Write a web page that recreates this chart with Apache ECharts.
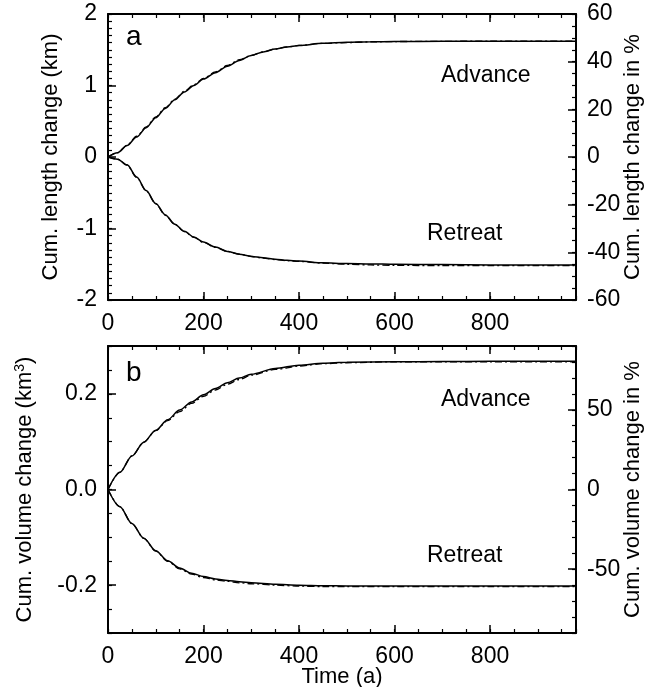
<!DOCTYPE html>
<html>
<head>
<meta charset="utf-8">
<script src="https://cdn.jsdelivr.net/npm/echarts@6/dist/echarts.min.js"></script>
<style>
html,body{margin:0;padding:0;background:#fff;overflow:hidden;}
#chart{width:646px;height:687px;}
</style>
</head>
<body>
<div id="chart"></div>
<script>
// ---- Data ----
var timeA = [0,20,40,60,80,100,120,140,160,180,200,225,250,275,300,325,350,375,400,450,500,550,600,700,800,900,980];
var lengthAdvance     = [0,0.06,0.16,0.28,0.41,0.55,0.68,0.80,0.91,1.00,1.09,1.18,1.27,1.35,1.42,1.47,1.51,1.54,1.56,1.59,1.605,1.612,1.615,1.618,1.62,1.62,1.62];
var lengthAdvanceAlt  = [0,0.06,0.165,0.29,0.42,0.56,0.69,0.81,0.92,1.01,1.10,1.19,1.28,1.36,1.42,1.47,1.51,1.54,1.56,1.59,1.60,1.61,1.615,1.618,1.62,1.62,1.62];
var lengthRetreat     = [0,-0.03,-0.11,-0.28,-0.47,-0.65,-0.81,-0.94,-1.04,-1.12,-1.19,-1.26,-1.32,-1.36,-1.39,-1.41,-1.43,-1.445,-1.455,-1.48,-1.49,-1.495,-1.50,-1.505,-1.51,-1.51,-1.51];
var lengthRetreatAlt  = [0,-0.03,-0.115,-0.285,-0.475,-0.655,-0.815,-0.945,-1.045,-1.125,-1.195,-1.265,-1.32,-1.36,-1.39,-1.415,-1.435,-1.45,-1.46,-1.485,-1.50,-1.51,-1.515,-1.52,-1.52,-1.52,-1.52];

var timeB = [0,25,50,75,100,125,150,175,200,225,250,275,300,350,400,450,500,600,700,800,900,980];
var volumeAdvance     = [0,0.036,0.070,0.099,0.124,0.146,0.166,0.183,0.198,0.211,0.223,0.233,0.241,0.253,0.260,0.264,0.266,0.267,0.2675,0.268,0.268,0.268];
var volumeAdvanceAlt  = [0,0.036,0.070,0.099,0.123,0.144,0.163,0.180,0.195,0.208,0.220,0.230,0.239,0.251,0.258,0.263,0.265,0.267,0.267,0.267,0.267,0.267];
var volumeRetreat     = [0,-0.036,-0.071,-0.102,-0.128,-0.149,-0.164,-0.175,-0.182,-0.187,-0.190,-0.193,-0.195,-0.198,-0.200,-0.201,-0.2015,-0.202,-0.202,-0.202,-0.202,-0.202];
var volumeRetreatAlt  = [0,-0.036,-0.071,-0.102,-0.129,-0.150,-0.166,-0.177,-0.184,-0.189,-0.192,-0.195,-0.197,-0.200,-0.202,-0.203,-0.203,-0.203,-0.203,-0.203,-0.203,-0.203];

// ---- Tick labels ----
var xTicks = [0,200,400,600,800];
var lenKmTicks = [-2,-1,0,1,2];
var lenPctTicks = [-60,-40,-20,0,20,40,60];
var volKmTicks = [-0.2,0,0.2];
var volPctTicks = [-50,0,50];

// ---- Build ----
var FONT = 'Liberation Sans, Arial, Helvetica, sans-serif';
function pairs(t, v){ return t.map(function(x,i){ return [x, v[i]]; }); }

var axisLine = {show:true, onZero:false, lineStyle:{color:'#000', width:2}};
function majorAxis(extra){
  var a = {
    type:'value', axisLine: axisLine, splitLine:{show:false}, nameMoveOverlap:false,
    axisTick:{show:true, inside:true, length:8, lineStyle:{color:'#000', width:1.5}},
    axisLabel:{show:true, color:'#000', fontSize:23, fontFamily:FONT, margin:11}
  };
  for (var k in extra) {
    if (typeof extra[k] === 'object' && a[k] && !Array.isArray(extra[k])) {
      a[k] = Object.assign({}, a[k], extra[k]);
    } else a[k] = extra[k];
  }
  return a;
}
function minorAxis(extra){
  var a = {
    type:'value', axisLine:{show:false, onZero:false}, splitLine:{show:false},
    axisTick:{show:true, inside:true, length:4, lineStyle:{color:'#000', width:1.2}},
    axisLabel:{show:false}
  };
  for (var k in extra) a[k] = extra[k];
  return a;
}

var xAxes = [], yAxes = [];
[0,1].forEach(function(g){
  xAxes.push(majorAxis({gridIndex:g, position:'bottom', min:0, max:980,
    axisTick:{customValues:xTicks},
    axisLabel:{customValues:xTicks, margin:12},
    name: g===1 ? 'Time (a)' : '', nameLocation:'middle', nameGap:33,
    nameTextStyle:{color:'#000', fontSize:22, fontFamily:FONT}
  }));
  xAxes.push(minorAxis({gridIndex:g, position:'bottom', min:0, max:980, interval:50}));
  xAxes.push(majorAxis({gridIndex:g, position:'top', min:0, max:980,
    axisTick:{customValues:xTicks}, axisLabel:{show:false}}));
  xAxes.push(minorAxis({gridIndex:g, position:'top', min:0, max:980, interval:50}));
});

yAxes.push(majorAxis({gridIndex:0, position:'left', min:-2, max:2,
  axisTick:{customValues:lenKmTicks}, axisLabel:{customValues:lenKmTicks},
  name:'Cum. length change (km)', nameLocation:'middle', nameRotate:90, nameGap:46,
  nameTextStyle:{color:'#000', fontSize:22, fontFamily:FONT}}));
yAxes.push(minorAxis({gridIndex:0, position:'left', min:-2, max:2, interval:0.1}));
yAxes.push(majorAxis({gridIndex:0, position:'right', min:-60, max:60,
  axisTick:{customValues:lenPctTicks}, axisLabel:{customValues:lenPctTicks},
  name:'Cum. length change in %', nameLocation:'middle', nameRotate:90, nameGap:46,
  nameTextStyle:{color:'#000', fontSize:22, fontFamily:FONT}}));
yAxes.push(minorAxis({gridIndex:0, position:'right', min:-60, max:60, interval:5}));
yAxes.push(majorAxis({gridIndex:1, position:'left', min:-0.3, max:0.3,
  axisTick:{customValues:volKmTicks},
  axisLabel:{customValues:volKmTicks, formatter:function(v){ return (+v).toFixed(1); }},
  name:'Cum. volume change (km{sup|3})', nameLocation:'middle', nameRotate:90, nameGap:71,
  nameTextStyle:{color:'#000', fontSize:22, fontFamily:FONT,
    rich:{sup:{fontSize:14, verticalAlign:'top', padding:[0,0,10,0], fontFamily:FONT, color:'#000'}}}}));
yAxes.push(minorAxis({gridIndex:1, position:'left', min:-0.3, max:0.3, interval:0.05}));
yAxes.push(majorAxis({gridIndex:1, position:'right', min:-90, max:90,
  axisTick:{customValues:volPctTicks}, axisLabel:{customValues:volPctTicks},
  name:'Cum. volume change in %', nameLocation:'middle', nameRotate:90, nameGap:46,
  nameTextStyle:{color:'#000', fontSize:22, fontFamily:FONT}}));
yAxes.push(minorAxis({gridIndex:1, position:'right', min:-90, max:90, interval:10}));

function line(data, xi, yi, dashed){
  return {
    type:'line', data:data, xAxisIndex:xi, yAxisIndex:yi,
    showSymbol:false, symbol:'none', smooth:0.3, smoothMonotone:'x', silent:true,
    lineStyle:{color:'#000', width: dashed ? 1.3 : 1.5, type: dashed ? [7,3,2,3] : 'solid'},
    z: dashed ? 3 : 4, animation:false
  };
}

var series = [
  line(pairs(timeA, lengthAdvanceAlt), 0, 0, true),
  line(pairs(timeA, lengthRetreatAlt), 0, 0, true),
  line(pairs(timeA, lengthAdvance), 0, 0, false),
  line(pairs(timeA, lengthRetreat), 0, 0, false),
  line(pairs(timeB, volumeAdvanceAlt), 4, 4, true),
  line(pairs(timeB, volumeRetreatAlt), 4, 4, true),
  line(pairs(timeB, volumeAdvance), 4, 4, false),
  line(pairs(timeB, volumeRetreat), 4, 4, false)
];

function txt(s, x, y, size){
  return {type:'text', x:x, y:y, silent:true,
    style:{text:s, fill:'#000', fontSize:size, fontFamily:FONT, align:'left', verticalAlign:'middle'}};
}

var option = {
  animation:false,
  backgroundColor:'#fff',
  grid:[
    {left:108, right:70, top:14, height:286, containLabel:false, outerBoundsMode:'none'},
    {left:108, right:70, top:346, height:287, containLabel:false, outerBoundsMode:'none'}
  ],
  xAxis: xAxes,
  yAxis: yAxes,
  series: series,
  graphic: [
    txt('a', 126, 37, 28),
    txt('b', 126, 373, 28),
    txt('Advance', 441, 76, 23),
    txt('Retreat', 427, 234, 23),
    txt('Advance', 441, 400, 23),
    txt('Retreat', 427, 556, 23)
  ]
};

var chart = echarts.init(document.getElementById('chart'), null, {renderer:'canvas', width:646, height:687});
chart.setOption(option);
</script>
</body>
</html>
